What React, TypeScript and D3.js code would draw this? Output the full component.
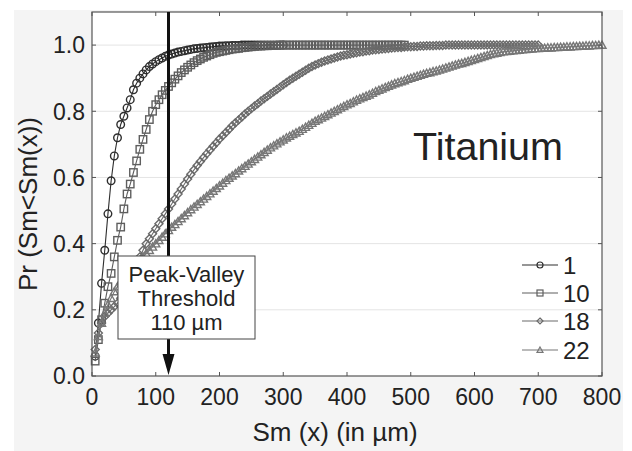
import React from "react";
import * as d3 from "d3";

const xTicks = [0, 100, 200, 300, 400, 500, 600, 700, 800];
const yTicks = [0, 0.2, 0.4, 0.6, 0.8, 1.0];
const seriesNames = ["1", "10", "18", "22"];
const STEP = 5; // Sm sampling step (µm) of the plotted points

const s1 = [
  0.06, 0.16, 0.28, 0.38, 0.49, 0.59, 0.665, 0.72, 0.76, 0.785,
  0.81, 0.835, 0.865, 0.885, 0.9, 0.913, 0.925, 0.935, 0.943, 0.95,
  0.956, 0.961, 0.966, 0.97, 0.973, 0.976, 0.979, 0.981, 0.983, 0.985,
  0.987, 0.989, 0.99, 0.991, 0.992, 0.993, 0.994, 0.995, 0.996, 0.997,
  0.997, 0.998, 0.998, 0.999, 0.999, 0.999, 1, 1, 1, 1,
  1, 1, 1, 1, 1, 1, 1, 1, 1, 1,
];
const s10 = [
  0.045, 0.11, 0.17, 0.22, 0.27, 0.31, 0.36, 0.41, 0.45, 0.505,
  0.55, 0.58, 0.615, 0.65, 0.685, 0.715, 0.745, 0.775, 0.8, 0.82,
  0.835, 0.85, 0.863, 0.875, 0.886, 0.897, 0.907, 0.917, 0.925, 0.933,
  0.94, 0.947, 0.953, 0.958, 0.963, 0.967, 0.971, 0.975, 0.978, 0.98,
  0.982, 0.984, 0.986, 0.988, 0.989, 0.99, 0.992, 0.993, 0.994, 0.995,
  0.996, 0.997, 0.997, 0.998, 0.998, 0.999, 0.999, 0.999, 1, 1,
  1, 1, 1, 1, 1, 1, 1, 1, 1, 1,
  1, 1, 1, 1, 1, 1, 1, 1, 1, 1,
  1, 1, 1, 1, 1, 1, 1, 1, 1, 1,
  1, 1, 1, 1, 1, 1, 1, 1,
];
const s18 = [
  0.08, 0.13, 0.16, 0.18, 0.19, 0.2, 0.21, 0.22, 0.235, 0.25,
  0.27, 0.29, 0.31, 0.335, 0.36, 0.38, 0.4, 0.415, 0.43, 0.445,
  0.46, 0.475, 0.49, 0.505, 0.52, 0.535, 0.55, 0.565, 0.58, 0.595,
  0.61, 0.623, 0.636, 0.648, 0.66, 0.672, 0.683, 0.694, 0.705, 0.716,
  0.726, 0.736, 0.746, 0.756, 0.765, 0.774, 0.783, 0.792, 0.8, 0.808,
  0.816, 0.823, 0.831, 0.838, 0.845, 0.852, 0.859, 0.866, 0.873, 0.88,
  0.887, 0.894, 0.9, 0.906, 0.912, 0.918, 0.924, 0.93, 0.935, 0.94,
  0.944, 0.948, 0.952, 0.955, 0.958, 0.961, 0.964, 0.967, 0.969, 0.971,
  0.973, 0.975, 0.977, 0.979, 0.98, 0.982, 0.983, 0.985, 0.986, 0.987,
  0.988, 0.989, 0.99, 0.991, 0.992, 0.993, 0.993, 0.994, 0.995, 0.995,
  0.996, 0.996, 0.997, 0.997, 0.998, 0.998, 0.998, 0.999, 0.999, 0.999,
  1, 1, 1, 1, 1, 1, 1, 1, 1, 1,
  1, 1, 1, 1, 1, 1, 1, 1, 1, 1,
  1, 1, 1, 1, 1, 1, 1, 1, 1, 1,
];
const s22 = [
  0.07, 0.12, 0.16, 0.19, 0.215, 0.235, 0.255, 0.27, 0.285, 0.3,
  0.31, 0.32, 0.33, 0.34, 0.35, 0.36, 0.37, 0.38, 0.39, 0.4,
  0.41, 0.42, 0.43, 0.44, 0.45, 0.458, 0.467, 0.476, 0.485, 0.494,
  0.503, 0.511, 0.519, 0.527, 0.535, 0.543, 0.551, 0.559, 0.567, 0.575,
  0.583, 0.591, 0.598, 0.605, 0.612, 0.62, 0.627, 0.634, 0.641, 0.648,
  0.655, 0.662, 0.669, 0.676, 0.683, 0.69, 0.696, 0.702, 0.708, 0.714,
  0.72, 0.725, 0.73, 0.735, 0.74, 0.746, 0.752, 0.758, 0.764, 0.77,
  0.775, 0.78, 0.785, 0.79, 0.795, 0.8, 0.805, 0.81, 0.815, 0.82,
  0.824, 0.829, 0.834, 0.838, 0.842, 0.846, 0.85, 0.855, 0.86, 0.864,
  0.868, 0.872, 0.876, 0.88, 0.884, 0.887, 0.89, 0.893, 0.897, 0.9,
  0.903, 0.906, 0.909, 0.912, 0.915, 0.917, 0.92, 0.922, 0.925, 0.928,
  0.931, 0.934, 0.937, 0.94, 0.943, 0.945, 0.948, 0.951, 0.954, 0.957,
  0.96, 0.963, 0.966, 0.969, 0.972, 0.974, 0.976, 0.978, 0.98, 0.981,
  0.982, 0.983, 0.984, 0.985, 0.986, 0.987, 0.988, 0.989, 0.99, 0.99,
  0.991, 0.991, 0.992, 0.992, 0.993, 0.993, 0.994, 0.994, 0.995, 0.995,
  0.996, 0.996, 0.997, 0.997, 0.998, 0.998, 0.999, 0.999, 1, 1,
];
const thresholdX = 120;

const W = 632;
const H = 451;
const L = 92, R = 602, T = 12, B = 376;
const FONT = "'Liberation Sans', Arial, Helvetica, sans-serif";

type Shape = "circle" | "square" | "diamond" | "triangle";

function Marker({ shape, x, y, s, color, w = 1.4 }: { shape: Shape; x: number; y: number; s: number; color: string; w?: number }) {
  const common = { fill: "none", stroke: color, strokeWidth: w };
  if (shape === "circle") return <circle cx={x} cy={y} r={s} {...common} />;
  if (shape === "square") return <rect x={x - s} y={y - s} width={2 * s} height={2 * s} {...common} />;
  if (shape === "diamond")
    return <polygon points={`${x},${y - s} ${x + s},${y} ${x},${y + s} ${x - s},${y}`} {...common} />;
  return <polygon points={`${x},${y - s} ${x + s},${y + s * 0.8} ${x - s},${y + s * 0.8}`} {...common} />;
}

export default function App() {
  const xs = d3.scaleLinear().domain([0, 800]).range([L, R]);
  const ys = d3.scaleLinear().domain([0, 1.1]).range([B, T]);

  const series = [
    { name: seriesNames[0], vals: s1, shape: "circle" as Shape, color: "#2e2e2e", s: 3.8 },
    { name: seriesNames[1], vals: s10, shape: "square" as Shape, color: "#5e5e5e", s: 3.7 },
    { name: seriesNames[2], vals: s18, shape: "diamond" as Shape, color: "#6a6a6a", s: 4.0 },
    { name: seriesNames[3], vals: s22, shape: "triangle" as Shape, color: "#777777", s: 4.0 },
  ];

  const line = d3
    .line<number>()
    .x((_, i) => xs((i + 1) * STEP))
    .y((d) => ys(d));

  const ax = xs(thresholdX);
  const legendY = [265, 293, 321, 350];

  return (
    <div style={{ position: "absolute", left: 0, top: 0 }}>
      <svg width={W} height={H} style={{ display: "block" }}>
        <rect x={0} y={0} width={W} height={H} fill="#ffffff" />
        <rect x={14} y={10} width={609} height={441} fill="#f4f4f4" />
        <rect x={L} y={T} width={R - L} height={B - T} fill="#ffffff" />
        {yTicks.filter((t) => t > 0).map((t) => (
          <line key={"g" + t} x1={L} x2={R} y1={ys(t)} y2={ys(t)} stroke="#e4e4e4" strokeWidth={1} />
        ))}
        {series.map((sr) => (
          <g key={sr.name}>
            <path d={line(sr.vals) || ""} fill="none" stroke={sr.color} strokeWidth={1.1} />
            {sr.vals.map((v, i) => (
              <Marker key={i} shape={sr.shape} x={xs((i + 1) * STEP)} y={ys(v)} s={sr.s} color={sr.color} />
            ))}
          </g>
        ))}
        <rect x={L} y={T} width={R - L} height={B - T} fill="none" stroke="#555" strokeWidth={1.2} />
        {xTicks.map((t) => (
          <g key={"xt" + t}>
            <line x1={xs(t)} x2={xs(t)} y1={B} y2={B - 4} stroke="#555" />
            <line x1={xs(t)} x2={xs(t)} y1={T} y2={T + 4} stroke="#555" />
            <text x={xs(t)} y={405} textAnchor="middle" fontFamily={FONT} fontSize={23} fill="#222">
              {t}
            </text>
          </g>
        ))}
        {yTicks.map((t) => (
          <g key={"yt" + t}>
            <line x1={L} x2={L + 4} y1={ys(t)} y2={ys(t)} stroke="#555" />
            <line x1={R} x2={R - 4} y1={ys(t)} y2={ys(t)} stroke="#555" />
            <text x={85} y={ys(t)} dy="0.36em" textAnchor="end" fontFamily={FONT} fontSize={23} fill="#222">
              {t.toFixed(1)}
            </text>
          </g>
        ))}
        <text x={335} y={441} textAnchor="middle" fontFamily={FONT} fontSize={26} fill="#222">
          Sm (x) (in µm)
        </text>
        <text
          transform={`translate(37,204) rotate(-90)`}
          textAnchor="middle"
          fontFamily={FONT}
          fontSize={26}
          fill="#222"
        >
          Pr (Sm&lt;Sm(x))
        </text>
        <text x={413} y={160} fontFamily={FONT} fontSize={39.5} fill="#222">
          Titanium
        </text>
        {/* threshold arrow */}
        <line x1={ax} x2={ax} y1={T} y2={360} stroke="#111" strokeWidth={3} />
        <polygon points={`${ax},${B - 1} ${ax - 6},${B - 22} ${ax + 6},${B - 22}`} fill="#111" />
        <rect x={118} y={256} width={137} height={83} fill="#ffffff" stroke="#444" strokeWidth={1} />
        <g fontFamily={FONT} fontSize={22} fill="#222" textAnchor="middle">
          <text x={186.5} y={282}>Peak-Valley</text>
          <text x={186.5} y={306}>Threshold</text>
          <text x={186.5} y={330}>110 µm</text>
        </g>
        {/* legend */}
        {series.map((sr, i) => (
          <g key={"lg" + sr.name}>
            <line x1={522} x2={558} y1={legendY[i]} y2={legendY[i]} stroke={sr.color} strokeWidth={1.2} />
            <Marker shape={sr.shape} x={540} y={legendY[i]} s={3} color={sr.color} w={1.2} />
            <text x={563} y={legendY[i]} dy="0.36em" fontFamily={FONT} fontSize={24} fill="#222">
              {sr.name}
            </text>
          </g>
        ))}
      </svg>
    </div>
  );
}
